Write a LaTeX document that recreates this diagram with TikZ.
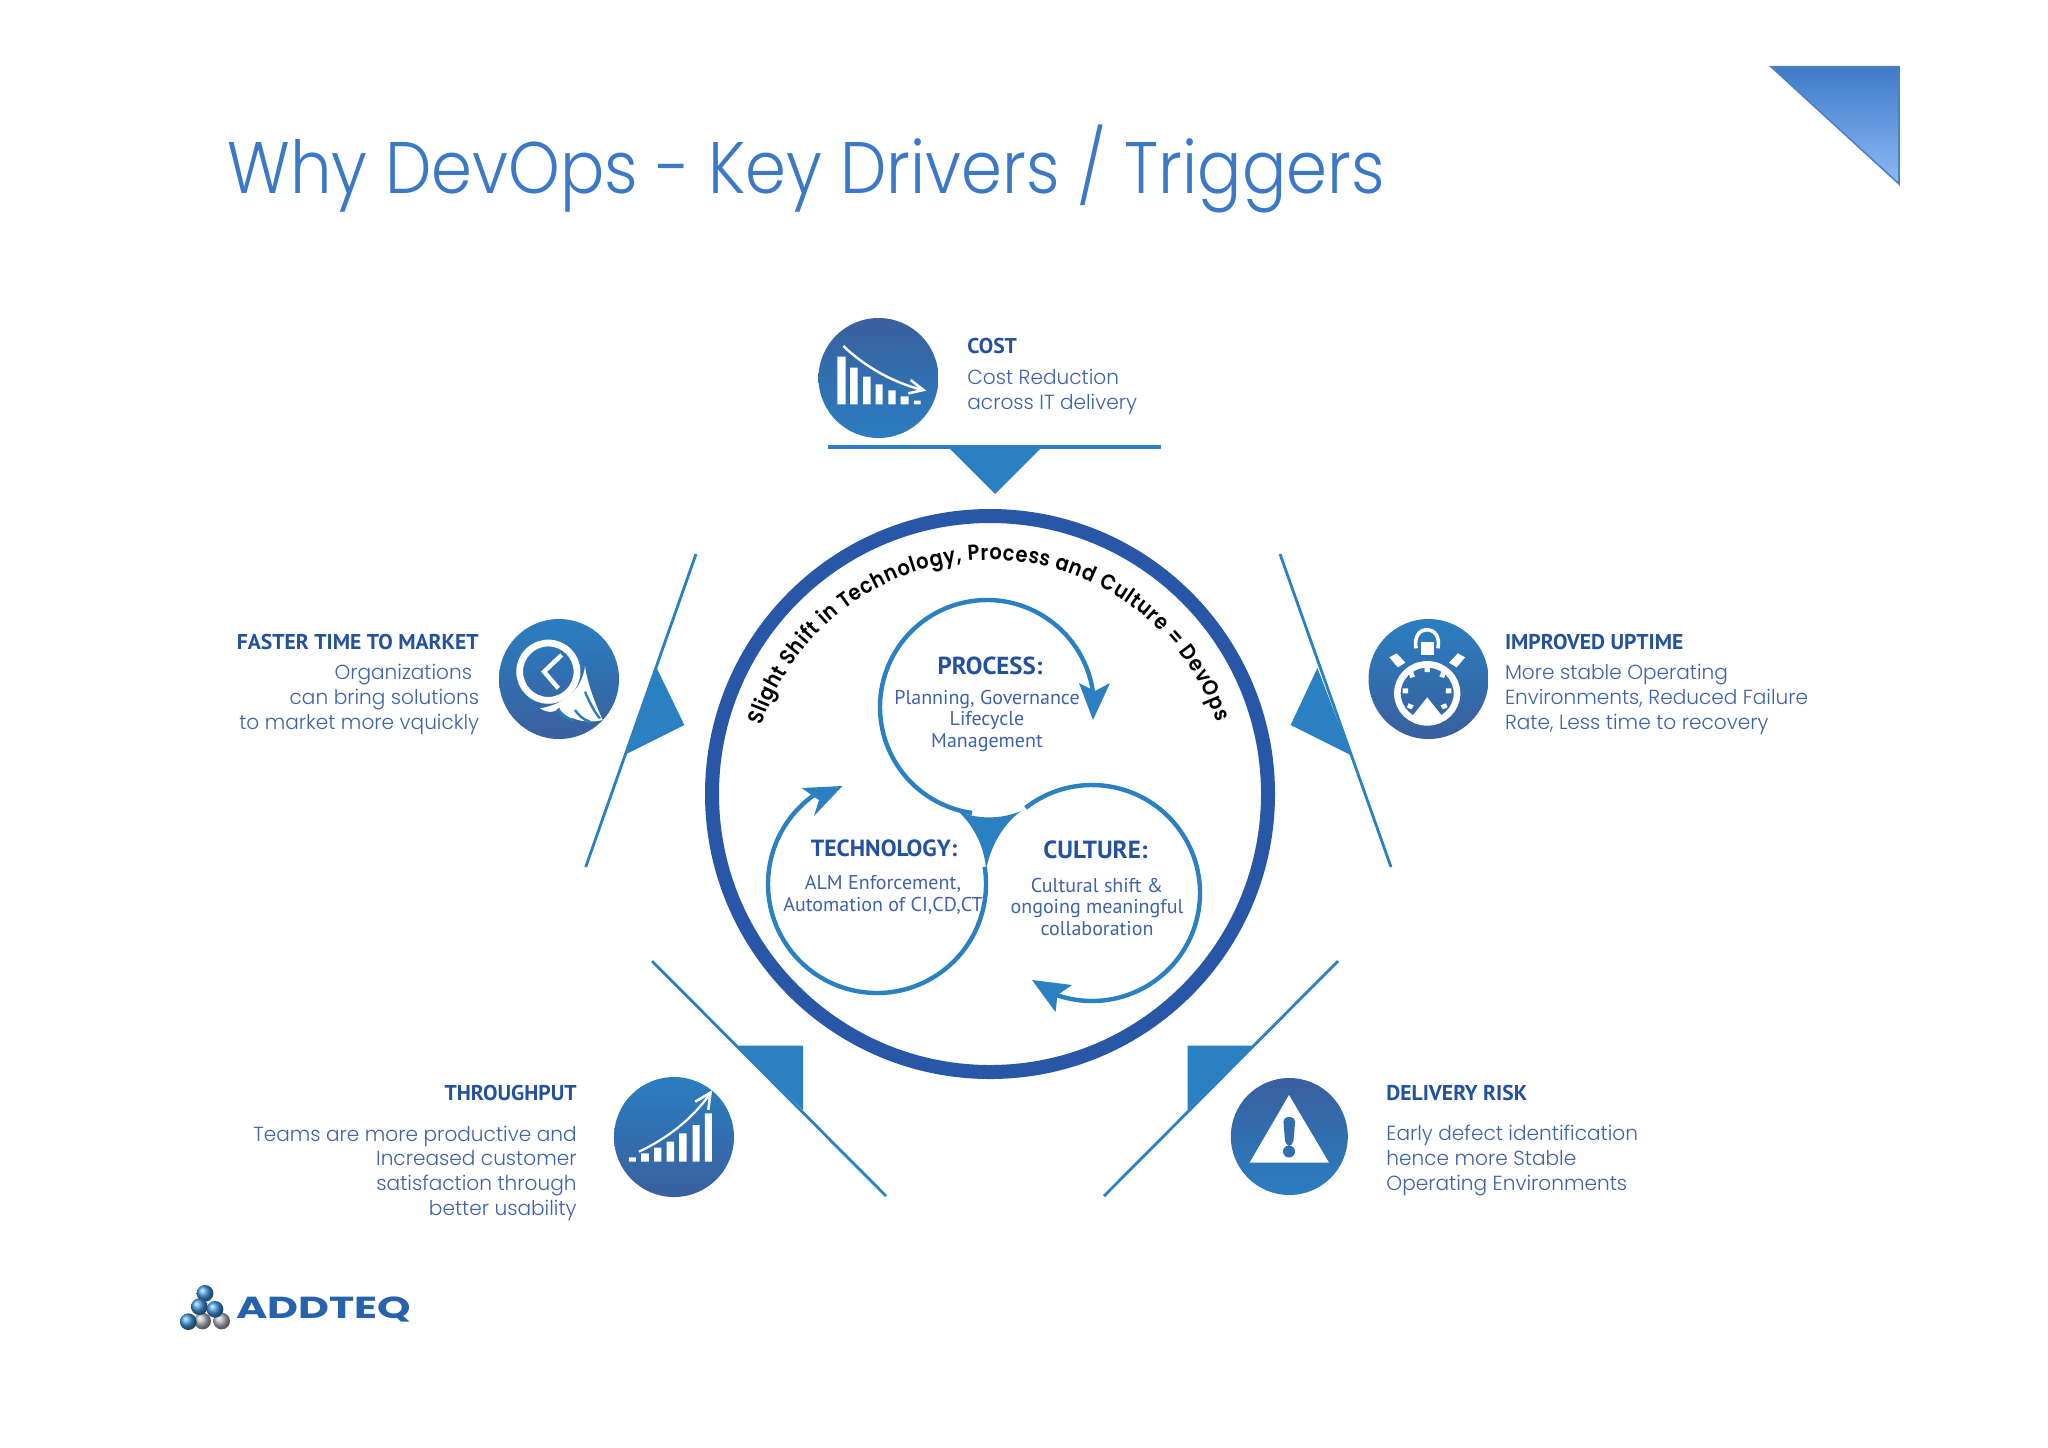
\documentclass[tikz,border=0pt]{standalone}
\usepackage{fontspec}
\usetikzlibrary{decorations.text,shadings}
\setmainfont{Poppins Light}
\newfontfamily\titlefont[FakeStretch=0.90]{Poppins Light}
\newfontfamily\bodyfont[FakeStretch=0.985]{Poppins Light}
\newfontfamily\arcfont[FakeStretch=0.9]{Poppins SemiBold}
\newfontfamily\headfont[FakeStretch=1.01]{PT Sans Bold}
\newfontfamily\innerfont{PT Sans}
\newfontfamily\logofont[FakeStretch=1.4]{Poppins Bold}
\definecolor{heada}{HTML}{24519F}
\definecolor{bodya}{HTML}{3F62A8}
\definecolor{lineblue}{HTML}{2A80C0}
\definecolor{ringblue}{HTML}{2857A8}
\definecolor{icondark}{HTML}{3A5F9E}
\definecolor{iconlight}{HTML}{2A7EC0}
\definecolor{titleblue}{HTML}{3C78C8}
\definecolor{cornertop}{HTML}{3F7BC8}
\definecolor{cornerbot}{HTML}{8DB9F6}
\definecolor{cornerline}{HTML}{4F80BF}
\definecolor{ballblue}{HTML}{3F95DC}
\definecolor{ballgray}{HTML}{B4B8BC}
\tikzset{
  headtxt/.style={inner sep=0pt,text=heada,font=\headfont\fontsize{10.7}{12}\selectfont},
  bodytxt/.style={inner sep=0pt,text=bodya,font=\bodyfont\fontsize{10.2}{12.3}\selectfont},
  innerhead/.style={inner sep=0pt,text=heada,anchor=base,font=\headfont\fontsize{#1}{13}\selectfont},
  innerbody/.style={inner sep=0pt,text=bodya,align=center,font=\innerfont\fontsize{10}{10.7}\selectfont},
  sideline/.style={draw=lineblue,line width=1.4pt},
  wedge/.style={fill=lineblue},
  geom/.style={circle,inner sep=0pt,outer sep=0pt,minimum size=#1},
  icondown/.style={circle,inner sep=0pt,outer sep=0pt,minimum size=120*0.5pt,top color=icondark,bottom color=iconlight},
  iconup/.style={circle,inner sep=0pt,outer sep=0pt,minimum size=120*0.5pt,top color=iconlight,bottom color=icondark},
  inarc/.style={draw=lineblue,line width=2.2pt},
}
\begin{document}
\begin{tikzpicture}[x=0.5pt,y=-0.5pt]
\useasboundingbox (0,0) rectangle (2048,1447);
\fill[white] (0,0) rectangle (2048,1447);
% corner triangle
\path[draw=cornerline,line width=0.8pt,top color=cornertop,bottom color=cornerbot] (1771,66.7) -- (1899,66.7) -- (1899,184) -- cycle;
\node[anchor=base west,inner sep=0pt,text=titleblue,font=\titlefont\fontsize{36.5}{40}\selectfont] (title) at (227,193) {Why DevOps - Key Drivers / Triggers};

% big ring
\node[geom=556*0.5pt,draw=ringblue,line width=7pt] (ring) at (990,794) {};
\node[geom=480*0.5pt] (arcguide) at (990,800) {};
\path[decorate,decoration={text along path,text align={fit to path},text={|\arcfont\fontsize{10.8}{12}\selectfont|Slight Shift in Technology, Process and Culture = DevOps}}]
  (arcguide.162) arc[start angle=162,end angle=19,radius=120pt];

% inner circles
\node[geom=214*0.5pt] (proc) at (987,707) {};
\node[geom=218*0.5pt] (tech) at (877,884) {};
\node[geom=216*0.5pt] (cult) at (1092,893) {};
\draw[inarc] (proc.8) arc[start angle=8,end angle=262,radius=107pt*0.5];
\draw[inarc] (tech.125) arc[start angle=125,end angle=369,radius=109pt*0.5];
\draw[inarc] (cult.128) arc[start angle=128,end angle=-109,radius=108pt*0.5];
\fill[lineblue] (1079,683) -- (1095,691) -- (1110,683) -- (1093,720) -- cycle;
\fill[lineblue] (842.4,786) -- (801.6,788) -- (819,800) -- (814,816) -- cycle;
\fill[lineblue] (1032,980) -- (1072,985) -- (1057.5,995) -- (1055.5,1012) -- cycle;
\fill[lineblue] (958,811) .. controls (975,819) and (1000,820) .. (1021,811) .. controls (1002,825) and (990,848) .. (986,870) .. controls (985,850) and (976,828) .. cycle;

\node[innerhead=12.3] (proch) at (990,674.7) {PROCESS:};
\node[innerbody,anchor=base] (procb) at (987,747) {Planning, Governance\\Lifecycle\\Management};
\node[innerhead=11.7] (techh) at (884,856) {TECHNOLOGY:};
\node[innerbody,anchor=base] (techb) at (883,911) {ALM Enforcement,\\Automation of CI,CD,CT};
\node[innerhead=12.4] (culth) at (1095.5,858.5) {CULTURE:};
\node[innerbody,anchor=base] (cultb) at (1097,935) {Cultural shift \&\\ongoing meaningful\\collaboration};

% cost
\node[icondown] (costc) at (878.5,378) {};
\draw[draw=lineblue,line width=2.2pt] (828,447) -- (1161,447);
\fill[lineblue] (948,447) -- (1042,447) -- (995,494) -- cycle;
\begin{scope}[shift={(780,300)},x=0.16667pt,y=-0.16667pt]
\fill[white] (172,170) rectangle (197,313) (210,203) rectangle (233,313) (249,230) rectangle (272,313) (287,253) rectangle (308,313) (325,271) rectangle (347,313) (362,289) rectangle (386,313) (402,302) rectangle (422,313);
\draw[white,line width=1.2pt] (190,138) .. controls (250,195) and (330,245) .. (428,270);
\draw[white,line width=1.3pt] (392,240) -- (430,270) -- (385,280);
\end{scope}
\node[headtxt,anchor=base west] (costh) at (967,353) {COST};
\node[bodytxt,anchor=base west,align=left] (costb) at (967,409) {Cost Reduction\\across IT delivery};

% faster time to market
\draw[sideline] (696,554) -- (585.7,867);
\fill[wedge] (656.7,668) -- (684.3,725) -- (624.3,755) -- cycle;
\node[iconup] (timec) at (559,679) {};
\begin{scope}[shift={(220,540)},x=0.16667pt,y=-0.16667pt]
\draw[white,line width=3.4pt] (985,395) circle (86);
\draw[white,line width=2.2pt] (1025,345) -- (972,395) -- (1015,445);
\fill[white] (1095,378) .. controls (1100,420) and (1120,480) .. (1148,540) .. controls (1125,545) and (1090,548) .. (1060,535) .. controls (1045,535) and (1030,520) .. (1015,505) .. controls (1005,520) and (980,518) .. (960,505) .. controls (1020,495) and (1085,460) .. cycle;
\draw[iconlight,line width=1.2pt] (1095,455) .. controls (1105,480) and (1125,520) .. (1140,535);
\draw[iconlight,line width=1.2pt] (1065,510) .. controls (1075,525) and (1090,540) .. (1110,545);
\draw[iconlight,line width=1.2pt] (1015,505) .. controls (1020,525) and (1035,535) .. (1060,540);
\end{scope}
\node[headtxt,anchor=base east] (timeh) at (479,649) {FASTER TIME TO MARKET};
\node[bodytxt,anchor=base east,align=right] (timeb) at (479.5,729) {Organizations\hspace*{3.5pt}\\can bring solutions\\to market more vquickly};

% improved uptime
\draw[sideline] (1280,554) -- (1391,867);
\fill[wedge] (1317.4,668) -- (1290.6,725) -- (1350.7,755) -- cycle;
\node[iconup] (upc) at (1428.5,679) {};
\begin{scope}[shift={(1260,540)},x=0.1913pt,y=-0.16667pt]
\draw[white,line width=3.3pt] (437,460) circle[x radius=78,y radius=87];
\draw[white,line width=1.8pt] (408,325) .. controls (395,250) and (478,250) .. (465,325);
\fill[white] (420,305) rectangle (455,345);
\fill[white] (338,352) -- (357,340) -- (380,368) -- (360,382) -- cycle;
\fill[white] (536,352) -- (517,340) -- (494,368) -- (514,382) -- cycle;
\fill[white] (430,378) rectangle (444,396) (373,445) rectangle (387,460) (486,445) rectangle (500,460);
\fill[white] (388,398) -- (400,394) -- (405,410) -- (393,414) -- cycle;
\fill[white] (486,398) -- (474,394) -- (469,410) -- (481,414) -- cycle;
\fill[white] (388,490) -- (402,496) -- (396,508) -- (384,502) -- cycle;
\fill[white] (486,490) -- (472,496) -- (478,508) -- (490,502) -- cycle;
\fill[white] (437,472) -- (398,528) -- (400,545) -- (474,545) -- (476,528) -- cycle;
\end{scope}
\node[headtxt,anchor=base west] (uph) at (1504.6,649) {IMPROVED UPTIME};
\node[bodytxt,anchor=base west,align=left] (upb) at (1504.6,729) {More stable Operating\\Environments, Reduced Failure\\Rate, Less time to recovery};

% throughput
\draw[sideline] (652,961) -- (886,1196);
\fill[wedge] (736.5,1045.7) -- (803,1045.7) -- (803,1110) -- cycle;
\node[iconup] (thrc) at (674,1137) {};
\begin{scope}[shift={(240,960)},x=0.2168pt,y=-0.16667pt]
\fill[white] (897,592) rectangle (913,605) (925,580) rectangle (943,605) (955,563) rectangle (972,605) (984,545) rectangle (1001,605) (1013,520) rectangle (1030,605) (1044,495) rectangle (1060,605) (1072,460) rectangle (1088,605);
\draw[white,line width=1.1pt] (920,575) .. controls (985,535) and (1040,480) .. (1082,405);
\draw[white,line width=1.3pt] (1050,425) -- (1085,398) -- (1080,450);
\end{scope}
\node[headtxt,anchor=base east] (thrh) at (577,1100) {THROUGHPUT};
\node[bodytxt,anchor=base east,align=right] (thrb) at (577,1215) {Teams are more productive and\\Increased customer\\satisfaction through\\better usability};

% delivery risk
\draw[sideline] (1338,961) -- (1104,1196);
\fill[wedge] (1187.6,1045.7) -- (1254.6,1045.7) -- (1187.6,1110) -- cycle;
\node[icondown,minimum size=117*0.5pt] (delc) at (1289.3,1136.5) {};
\fill[white] (1289,1095) -- (1249.6,1162.7) -- (1329,1162.7) -- cycle;
\fill[icondark!50!iconlight,rounded corners=2.5pt] (1283,1117) -- (1295.5,1117) -- (1293,1146) -- (1285.5,1146) -- cycle;
\fill[icondark!50!iconlight] (1289,1151.5) circle[radius=3pt];
\node[headtxt,anchor=base west] (delh) at (1386,1100) {DELIVERY RISK};
\node[bodytxt,anchor=base west,align=left] (delb) at (1386,1190) {Early defect identification\\hence more Stable\\Operating Environments};

% logo
\begin{scope}[shift={(160,1260)},x=0.16667pt,y=-0.16667pt]
\foreach \px/\py/\cc in {128/183/ballgray,185/183/ballgray,135/100/ballblue,118/140/ballblue,165/148/ballblue,85/185/ballblue}
  \shade[ball color=\cc] (\px,\py) circle (25);
\end{scope}
\node[anchor=base west,inner sep=0pt,text=heada!60!iconlight,font=\logofont\fontsize{15.2}{17}\selectfont] (logo) at (236,1318) {ADDTEQ};
\end{tikzpicture}
\end{document}
